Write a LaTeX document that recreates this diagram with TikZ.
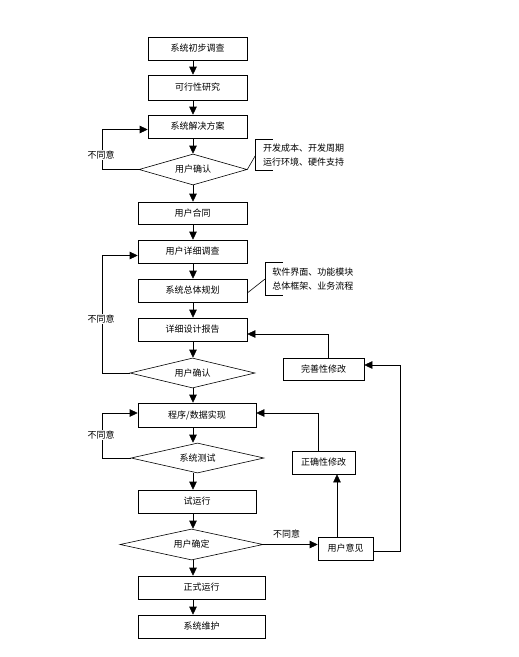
\documentclass[tikz,border=0pt]{standalone}
\usepackage{fontspec}
\newfontfamily\cjk{Noto Sans CJK SC}
\usetikzlibrary{arrows.meta,shapes.geometric}
\begin{document}
\begin{tikzpicture}[x=1pt, y=-1pt, line width=0.6pt,
        every node/.style={font=\cjk\fontsize{9pt}{14pt}\selectfont},
        box/.style={draw, rectangle, inner sep=0pt, minimum height=23pt},
        cond/.style={draw, diamond, inner sep=0pt, aspect=4, minimum height=31pt},
        note/.style={align=left, inner xsep=7pt, inner ysep=0pt, anchor=west},
        arr/.style={-{Triangle[length=8pt,width=7.5pt]}},
        tag/.style={fill=white, inner sep=1pt}]
        \useasboundingbox (0,0) rectangle (519,657);
        \coordinate (axis) at (193,0);
        \coordinate (lx) at (102,0);
        \coordinate (rx) at (400,0);
        % main column
        \node (b1) [box, minimum width=99pt] at (197.5,48.5) {系统初步调查};
        \node (b2) [box, minimum width=99pt, minimum height=25pt] at (197.5,87.5) {可行性研究};
        \node (b3) [box, minimum width=99pt] at (197.5,126.5) {系统解决方案};
        \node (d1) [cond, minimum width=108pt] at (193,169.5) {用户确认};
        \node (b4) [box, minimum width=109pt, minimum height=22pt] at (192.5,213) {用户合同};
        \node (b5) [box, minimum width=109pt] at (192.5,251.5) {用户详细调查};
        \node (b6) [box, minimum width=109pt] at (192.5,290.5) {系统总体规划};
        \node (b7) [box, minimum width=109pt] at (192.5,329.5) {详细设计报告};
        \node (d2) [cond, minimum width=125pt, minimum height=30pt] at (192.5,373) {用户确认};
        \node (b8) [box, minimum width=118pt, minimum height=24pt] at (197,415) {程序/数据实现};
        \node (d3) [cond, minimum width=133pt, minimum height=30pt] at (197.5,458) {系统测试};
        \node (b9) [box, minimum width=118pt] at (197,501.5) {试运行};
        \node (d4) [cond, minimum width=143pt] at (191.5,544.5) {用户确定};
        \node (b10) [box, minimum width=127pt] at (201.5,587.5) {正式运行};
        \node (b11) [box, minimum width=127pt] at (201.5,626.5) {系统维护};
        % right column
        \node (ws) [box, minimum width=81pt, minimum height=22pt] at (323.5,369) {完善性修改};
        \node (zq) [box, minimum width=63pt] at (323.5,462.5) {正确性修改};
        \node (yy) [box, minimum width=55pt] at (345.5,548.5) {用户意见};
        % notes
        \node (n1) [note, minimum height=30pt] at (255.7,155) {开发成本、开发周期\\运行环境、硬件支持};
        \node (n2) [note, minimum height=32pt] at (265,279) {软件界面、功能模块\\总体框架、业务流程};
        \draw ([xshift=17pt]n1.north west) -- (n1.north west) -- (n1.south west) -- ([xshift=17pt]n1.south west);
        \draw (d1.east) -- (n1.west);
        \draw ([xshift=18pt]n2.north west) -- (n2.north west) -- (n2.south west) -- ([xshift=18pt]n2.south west);
        \draw ([yshift=-2.5pt]b6.east) -- (n2.west);
        \foreach \a/\b in {b1/b2, b2/b3, b3/d1, d1/b4, b4/b5, b5/b6, b6/b7, b7/d2, d2/b8, b8/d3, d3/b9, b9/d4, d4/b10, b10/b11}
            \draw[arr] (\a.south -| axis) -- (\b.north -| axis);
        % loops back on the left
        \draw[arr] (d1.west) -- (d1.west -| lx) |- ([yshift=-3pt]b3.west);
        \draw[arr] (d2.west) -- (d2.west -| lx) |- ([yshift=-4pt]b5.west);
        \draw[arr] (d3.west) -- (d3.west -| lx) |- ([yshift=2pt]b8.west);
        \node (t1) [tag] at (101,155) {不同意};
        \node (t2) [tag] at (101,319) {不同意};
        \node (t3) [tag] at (101,435) {不同意};
        % changes on the right
        \draw[arr] (d4.east) -- (yy.west |- d4.east);
        \node (t4) at (286.5,534) {不同意};
        \draw[arr] ([xshift=-8.5pt]yy.north) -- ([xshift=-8.5pt]yy.north |- zq.south);
        \draw[arr] ([xshift=-5.5pt]zq.north) |- ([yshift=2pt]b8.east);
        \draw[arr] ([yshift=-3pt]yy.east) -- ([yshift=-3pt]yy.east -| rx) |- ([yshift=4pt]ws.east);
        \draw[arr] ([xshift=4.5pt]ws.north) |- ([yshift=-4.5pt]b7.east);
    \end{tikzpicture}
\end{document}
